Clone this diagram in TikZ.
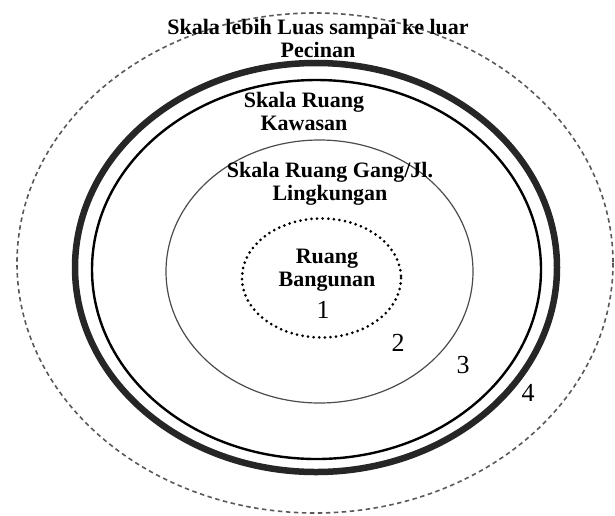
\documentclass[tikz,border=0pt]{standalone}
\usepackage{fontspec}
\setmainfont{Liberation Serif}
\usetikzlibrary{positioning}
\tikzset{
  lbl/.style={align=center, inner sep=0pt, font=\fontsize{22}{23}\selectfont\bfseries},
  num/.style={inner sep=0pt, font=\fontsize{26}{26}\selectfont},
  outerring/.style={draw=black!65, line width=1.6pt, dash pattern=on 4.5pt off 3.5pt},
  ringfour/.style={draw=black!85, line width=6.5pt},
  ringthree/.style={draw=black, line width=2.4pt},
  ringtwo/.style={draw=black!70, line width=1.2pt},
  ringone/.style={draw=black, line width=3pt, line cap=round, dash pattern=on 0pt off 5.6pt},
}
\begin{document}
\begin{tikzpicture}[x=1pt, y=-1pt]
  \useasboundingbox (0,0) rectangle (615,515);
  % rings, outside in
  \draw[outerring] (315,263) ellipse [x radius=298, y radius=250];
  \draw[ringfour]  (316,267.5) ellipse [x radius=241, y radius=204.5];
  \draw[ringthree] (316.5,269.5) ellipse [x radius=224.5, y radius=189.5];
  \draw[ringtwo]   (319.5,271.5) ellipse [x radius=153.5, y radius=131.5];
  \draw[ringone]   (321.5,278) ellipse [x radius=79.5, y radius=59.5];
  % labels
  \node[lbl] (luar) at (318,38) {Skala lebih Luas sampai ke luar\\Pecinan};
  \node[lbl] (kawasan) at (304,111) {Skala Ruang\\Kawasan};
  \node[lbl] (gang) at (330,184) {Skala Ruang Gang/Jl.\\Lingkungan};
  \node[lbl] (bangunan) at (327,270) {Ruang\\Bangunan};
  \node[num] (n1) at (323,310) {1};
  \node[num] (n2) at (398,343) {2};
  \node[num] (n3) at (463,365) {3};
  \node[num] (n4) at (528,393) {4};
\end{tikzpicture}
\end{document}
